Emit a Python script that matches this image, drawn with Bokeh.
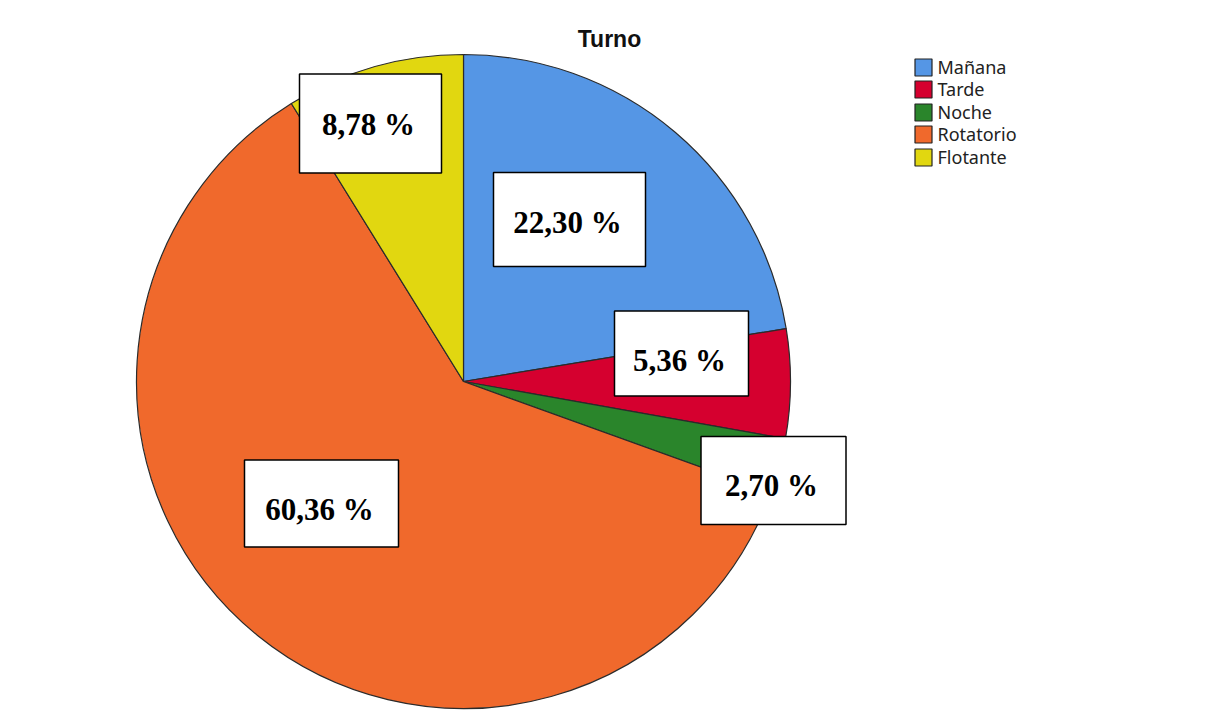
import math
from bokeh.plotting import figure
from bokeh.models import Range1d, ColumnDataSource
from bokeh.core.properties import value
from bokeh.embed import file_html
from bokeh.resources import INLINE

# Shift distribution (percent of respondents)
categories = ["Mañana", "Tarde", "Noche", "Rotatorio", "Flotante"]
percents = [22.30, 5.36, 2.70, 60.36, 8.78]
colors = ["#5596E5", "#D5002F", "#2A852B", "#F0692C", "#E1D710"]

W, H = 1211, 711

def py(y):
    # page-style y (top down) -> plot y (bottom up)
    return H - y

p = figure(width=W, height=H, output_backend="svg", toolbar_location=None,
           x_range=Range1d(0, W), y_range=Range1d(0, H),
           min_border=0, outline_line_color=None, background_fill_color="white",
           border_fill_color="white")
p.axis.visible = False
p.grid.visible = False

# Pie, clockwise from 12 o'clock
cx, cy, r = 463, py(381), 327
total = sum(percents)
starts, ends = [], []
acc = 0.0
for v in percents:
    starts.append(math.pi / 2 - 2 * math.pi * acc / total)
    acc += v
    ends.append(math.pi / 2 - 2 * math.pi * acc / total)

src = ColumnDataSource(dict(cat=categories, val=percents, color=colors,
                            start=starts, end=ends))
p.wedge(x=cx, y=cy, radius=r, start_angle="start", end_angle="end",
        direction="clock", fill_color="color", line_color="#2b2b2b",
        line_width=1.2, source=src)

# Value label boxes (box centre x, y, width, height, text offset y) per slice
label_boxes = {
    "Mañana":    (569, 219, 152, 94, 3),
    "Tarde":     (681, 353, 134, 85, 7),
    "Noche":     (773, 480, 145, 88, 5),
    "Rotatorio": (321, 503, 154, 87, 6),
    "Flotante":  (370, 123, 142, 99, 1),
}
bx, by, bw, bh, tx, ty, texts = [], [], [], [], [], [], []
for c, v in zip(categories, percents):
    x0, y0, w0, h0, off = label_boxes[c]
    bx.append(x0); by.append(py(y0)); bw.append(w0); bh.append(h0)
    tx.append(x0 - 2); ty.append(py(y0 + off))
    texts.append(f"{v:.2f}".replace(".", ",") + " %")

p.rect(x=bx, y=by, width=bw, height=bh, fill_color="white",
       line_color="black", line_width=1.5)
p.text(x=tx, y=ty, text=texts, text_align="center", text_baseline="middle",
       text_font=value("Liberation Serif"), text_font_style="bold",
       text_font_size="31px", text_color="black")

# Title
p.text(x=[609], y=[py(38)], text=["Turno"], text_align="center",
       text_baseline="middle", text_font=value("Liberation Sans"),
       text_font_style="bold", text_font_size="23px", text_color="#111111")

# Legend
leg_y = [67, 89, 112, 134, 157]
p.rect(x=[923] * len(categories), y=[py(v) for v in leg_y], width=17, height=17,
       fill_color=colors, line_color="#222222", line_width=1.2)
p.text(x=[937] * len(categories), y=[py(v - 1) for v in leg_y], text=categories,
       text_align="left", text_baseline="middle", text_font=value("Noto Sans"),
       text_font_size="18px", text_color="#222222")

open("out.html", "w").write(file_html(p, INLINE))
